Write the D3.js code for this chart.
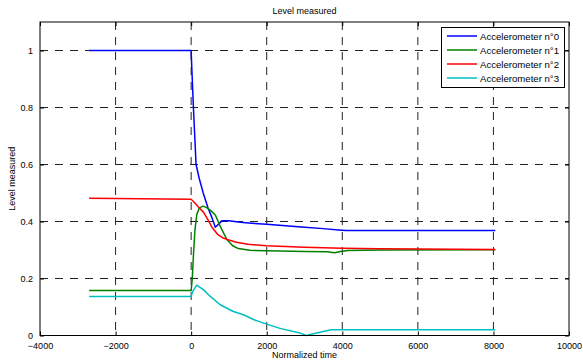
<!DOCTYPE html>
<html>
<head>
<meta charset="utf-8">
<script src="https://cdn.jsdelivr.net/npm/d3@7"></script>
<style>
  html, body { margin: 0; padding: 0; background: #fff; }
  svg { display: block; }
</style>
</head>
<body>
<div id="chart"></div>
<script>
// Level measured — four accelerometers vs normalized time

const X_TICKS = [-4000, -2000, 0, 2000, 4000, 6000, 8000, 10000];
const Y_TICKS = [0, 0.2, 0.4, 0.6, 0.8, 1];

const SERIES_NAMES = ['Accelerometer n°0', 'Accelerometer n°1', 'Accelerometer n°2', 'Accelerometer n°3'];
const SERIES_COLORS = ['#0000ff', '#008000', '#ff0000', '#00bfbf'];

const ACC0_X = [-2700, 0, 20, 60, 130, 220, 320, 440, 560, 640, 720, 820, 1000, 1150, 1300, 1600, 2000, 2500, 3000, 3500, 3900, 4100, 8050];
const ACC0_Y = [1, 1, 0.93, 0.8, 0.6, 0.548, 0.5, 0.45, 0.41, 0.38, 0.39, 0.403, 0.403, 0.4, 0.397, 0.394, 0.39, 0.385, 0.38, 0.375, 0.37, 0.368, 0.368];

const ACC1_X = [-2700, 0, 30, 60, 100, 150, 220, 320, 420, 520, 640, 770, 950, 1100, 1250, 1550, 2000, 3000, 3600, 3800, 3950, 4150, 5000, 8050];
const ACC1_Y = [0.158, 0.158, 0.2, 0.28, 0.37, 0.425, 0.448, 0.454, 0.448, 0.438, 0.423, 0.383, 0.336, 0.315, 0.305, 0.299, 0.297, 0.295, 0.294, 0.29, 0.295, 0.298, 0.3, 0.301];

const ACC2_X = [-2700, 0, 100, 200, 330, 450, 550, 700, 850, 1000, 1200, 1500, 2000, 2500, 3000, 3500, 4000, 5000, 8050];
const ACC2_Y = [0.482, 0.478, 0.465, 0.45, 0.432, 0.405, 0.38, 0.355, 0.342, 0.335, 0.327, 0.32, 0.315, 0.312, 0.31, 0.308, 0.306, 0.304, 0.302];

const ACC3_X = [-2700, 0, 40, 150, 330, 500, 770, 1100, 1400, 1650, 2000, 2350, 2850, 3050, 3350, 3700, 8050];
const ACC3_Y = [0.137, 0.137, 0.155, 0.177, 0.16, 0.138, 0.108, 0.085, 0.072, 0.056, 0.04, 0.025, 0.01, 0.0, 0.01, 0.02, 0.02];

const SERIES_X = [ACC0_X, ACC1_X, ACC2_X, ACC3_X];
const SERIES_Y = [ACC0_Y, ACC1_Y, ACC2_Y, ACC3_Y];

(function () {
    const width = 583, height = 364;
    const margin = { top: 22, right: 14, bottom: 28.5, left: 40 };
    const innerW = width - margin.left - margin.right;
    const innerH = height - margin.top - margin.bottom;
    const FONT = '"Liberation Sans", Arial, sans-serif';

    const svg = d3.select('#chart').append('svg')
        .attr('width', width).attr('height', height)
        .attr('viewBox', `0 0 ${width} ${height}`);

    const g = svg.append('g').attr('transform', `translate(${margin.left},${margin.top})`);

    const xScale = d3.scaleLinear().domain([-4000, 10000]).range([0, innerW]);
    const yScale = d3.scaleLinear().domain([0, 1.1]).range([innerH, 0]);

    // Dashed grid
    g.selectAll('.vgrid').data(X_TICKS.slice(1, -1)).enter().append('line')
        .attr('x1', d => xScale(d)).attr('x2', d => xScale(d))
        .attr('y1', 0).attr('y2', innerH)
        .attr('stroke', '#222').attr('stroke-width', 1)
        .attr('stroke-dasharray', '8,7');
    g.selectAll('.hgrid').data(Y_TICKS.slice(1)).enter().append('line')
        .attr('x1', 0).attr('x2', innerW)
        .attr('y1', d => yScale(d)).attr('y2', d => yScale(d))
        .attr('stroke', '#222').attr('stroke-width', 1)
        .attr('stroke-dasharray', '8,7');

    // Series lines
    const lineGen = d3.line().x(d => xScale(d[0])).y(d => yScale(d[1]));
    SERIES_X.forEach((xs, i) => {
        const pts = xs.map((x, j) => [x, SERIES_Y[i][j]]);
        g.append('path')
            .datum(pts)
            .attr('fill', 'none')
            .attr('stroke', SERIES_COLORS[i])
            .attr('stroke-width', 1.5)
            .attr('stroke-linejoin', 'round')
            .attr('d', lineGen);
    });

    // Axes (ticks inward, box around plot)
    const styleAxis = sel => sel
        .call(s => s.selectAll('.domain').remove())
        .call(s => s.selectAll('line').attr('stroke', '#000'))
        .call(s => s.selectAll('text').attr('fill', '#000').attr('font-size', '9px').attr('font-family', FONT));

    g.append('g').attr('transform', `translate(0,${innerH})`)
        .call(d3.axisBottom(xScale).tickValues(X_TICKS).tickSize(-4).tickPadding(7).tickFormat(d3.format('d')))
        .call(styleAxis);
    g.append('g')
        .call(d3.axisTop(xScale).tickValues(X_TICKS).tickSize(-4).tickFormat(''))
        .call(styleAxis);
    g.append('g')
        .call(d3.axisLeft(yScale).tickValues(Y_TICKS).tickSize(-4).tickPadding(7).tickFormat(d => d === 0 || d === 1 ? d : d3.format('.1f')(d)))
        .call(styleAxis);
    g.append('g').attr('transform', `translate(${innerW},0)`)
        .call(d3.axisRight(yScale).tickValues(Y_TICKS).tickSize(-4).tickFormat(''))
        .call(styleAxis);

    g.append('rect')
        .attr('x', 0).attr('y', 0).attr('width', innerW).attr('height', innerH)
        .attr('fill', 'none').attr('stroke', '#000').attr('stroke-width', 1);

    // Title and axis labels
    svg.append('text')
        .attr('x', margin.left + innerW / 2).attr('y', 14)
        .attr('text-anchor', 'middle').attr('font-size', '9px').attr('font-family', FONT)
        .text('Level measured');
    svg.append('text')
        .attr('x', margin.left + innerW / 2).attr('y', height - 6)
        .attr('text-anchor', 'middle').attr('font-size', '9px').attr('font-family', FONT)
        .text('Normalized time');
    svg.append('text')
        .attr('transform', 'rotate(-90)')
        .attr('x', -(margin.top + innerH / 2)).attr('y', 15)
        .attr('text-anchor', 'middle').attr('font-size', '9px').attr('font-family', FONT)
        .text('Level measured');

    // Legend
    const legend = svg.append('g').attr('transform', `translate(${margin.left + innerW - 128}, ${margin.top + 5})`);
    legend.append('rect')
        .attr('x', 0.5).attr('y', 0.5).attr('width', 123).attr('height', 60)
        .attr('fill', '#fff').attr('stroke', '#000').attr('stroke-width', 1);
    SERIES_NAMES.forEach((name, i) => {
        const grp = legend.append('g').attr('transform', `translate(0, ${9 + i * 14})`);
        grp.append('line').attr('x1', 6).attr('x2', 36).attr('y1', 0).attr('y2', 0)
            .attr('stroke', SERIES_COLORS[i]).attr('stroke-width', 1.5);
        grp.append('text').attr('x', 39).attr('y', 3.5)
            .attr('font-size', '9.6px').attr('font-family', FONT)
            .attr('fill', '#000').text(name);
    });
})();
</script>
</body>
</html>
